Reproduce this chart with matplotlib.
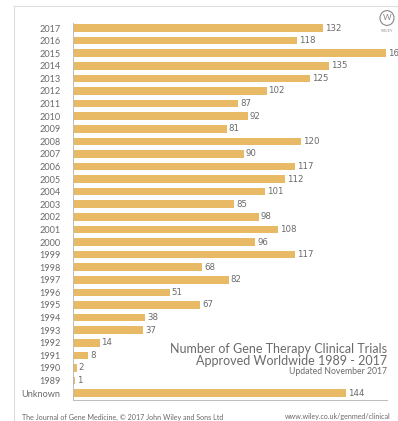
import matplotlib.pyplot as plt
from matplotlib.patches import Circle
from matplotlib.lines import Line2D

# Datos
years = ['2017', '2016', '2015', '2014', '2013', '2012', '2011', '2010', '2009', '2008',
         '2007', '2006', '2005', '2004', '2003', '2002', '2001', '2000', '1999', '1998',
         '1997', '1996', '1995', '1994', '1993', '1992', '1991', '1990', '1989', 'Unknown']
trials = [132, 118, 165, 135, 125, 102, 87, 92, 81, 120,
          90, 117, 112, 101, 85, 98, 108, 96, 117, 68,
          82, 51, 67, 38, 37, 14, 8, 2, 1, 144]

bar_color = '#E9BA66'
text_gray = '#6a6a6a'
main_font = ['Lato', 'DejaVu Sans']
num_font = ['Liberation Sans Narrow', 'DejaVu Sans']

W, H = 398, 421
fig = plt.figure(figsize=(W / 100, H / 100), dpi=100)
fig.patch.set_facecolor('white')

# moldura cinza clara (topo e esquerda)
fig.add_artist(Line2D([14 / W, 14 / W], [0, 1 - 6 / H], color='#dddddd', lw=0.8))
fig.add_artist(Line2D([14 / W, 1], [1 - 6 / H, 1 - 6 / H], color='#dddddd', lw=0.8))

ax = fig.add_axes([73 / W, 21 / H, 314 / W, 377 / H])
pos = list(range(len(years)))
ax.barh(pos, trials, height=0.6, color=bar_color, edgecolor='none')
ax.set_xlim(0, 165.5)
ax.set_ylim(29.55, -0.4)

ax.set_yticks(pos)
ax.set_yticklabels(years, family=main_font, fontsize=6.6, color=text_gray)
ax.tick_params(axis='y', length=0, pad=9)
ax.set_xticks([])
for s in ['top', 'right']:
    ax.spines[s].set_visible(False)
for s in ['left', 'bottom']:
    ax.spines[s].set_color('#bbbbbb')
    ax.spines[s].set_linewidth(0.7)

for p, v in zip(pos, trials):
    ax.text(v + 1, p, str(v), va='center', ha='left', fontsize=6.2,
            family=num_font, color=text_gray, clip_on=False)

# titulo
fig.text(387 / W, 1 - 349 / H, 'Number of Gene Therapy Clinical Trials', ha='right',
         va='center', fontsize=9, family=main_font, color=text_gray)
fig.text(387 / W, 1 - 361 / H, 'Approved Worldwide 1989 - 2017', ha='right',
         va='center', fontsize=9, family=main_font, color=text_gray)
fig.text(387 / W, 1 - 371.5 / H, 'Updated November 2017', ha='right',
         va='center', fontsize=6.2, family=main_font, color=text_gray)

# rodape
fig.text(22 / W, 1 - 417 / H, 'The Journal of Gene Medicine, \u00a9 2017 John Wiley and Sons Ltd',
         ha='left', va='center', fontsize=5.1, family=main_font, color=text_gray)
fig.text(285 / W, 1 - 417 / H, 'www.wiley.co.uk/genmed/clinical', ha='left',
         va='center', fontsize=5.1, family=main_font, color=text_gray)

# logo Wiley simplificado
fig.add_artist(Circle((387 / W, 1 - 18 / H), 7 / W, transform=fig.transFigure,
                      fill=False, edgecolor='#888888', lw=0.8))
fig.text(387 / W, 1 - 18 / H, 'W', ha='center', va='center', fontsize=6,
         family=main_font, color='#888888')
fig.text(387 / W, 1 - 31 / H, 'WILEY', ha='center', va='center', fontsize=3,
         family=main_font, color='#888888')

fig.savefig('out.png', dpi=100)
